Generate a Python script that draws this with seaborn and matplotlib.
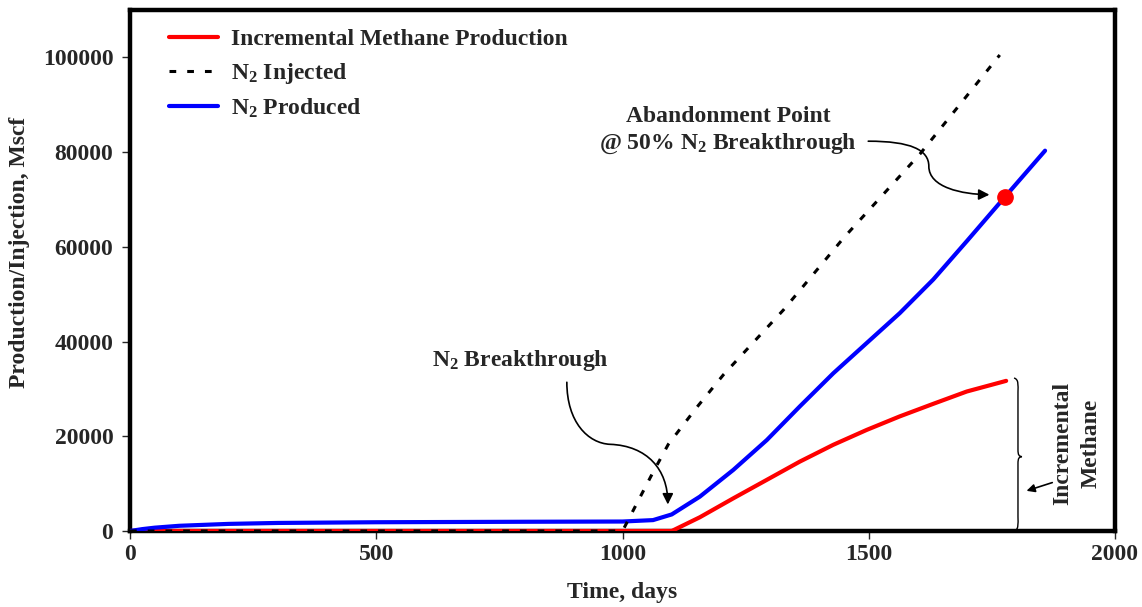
import numpy as np
import pandas as pd
import matplotlib
matplotlib.use("Agg")
import matplotlib.pyplot as plt
from matplotlib.path import Path
from matplotlib.patches import FancyArrowPatch, PathPatch
import seaborn as sns

# Cumulative volumes (Mscf) against time (days)
methane_days = [0, 200, 400, 600, 800, 1000, 1100, 1157, 1225, 1293, 1360, 1428, 1496, 1563, 1631, 1699, 1779]
methane_vals = [0, 0, 0, 0, 0, 0, 0, 2900, 6900, 10800, 14650, 18200, 21350, 24200, 26850, 29450, 31700]

injected_days = [0, 1000, 1030, 1060, 1093, 1150, 1205, 1327, 1450, 1604, 1766]
injected_vals = [0, 0, 6000, 12000, 18300, 26000, 33000, 46700, 62000, 79600, 100500]

produced_days = [0, 25, 50, 100, 200, 300, 500, 800, 1000, 1062, 1100, 1157, 1225, 1293, 1360, 1428,
                 1496, 1563, 1631, 1700, 1777, 1858]
produced_vals = [0, 400, 700, 1100, 1500, 1700, 1850, 1950, 2000, 2300, 3500, 7250, 12900, 19200, 26300,
                 33300, 39700, 46000, 53100, 61300, 70600, 80300]

abandon_day = 1777
abandon_val = 70600

x_ticks = [0, 500, 1000, 1500, 2000]
y_ticks = [0, 20000, 40000, 60000, 80000, 100000]

sns.set_style("white")
plt.rcParams["font.family"] = ["Liberation Serif", "DejaVu Serif"]
plt.rcParams["font.weight"] = "bold"
plt.rcParams["mathtext.fontset"] = "custom"
plt.rcParams["mathtext.rm"] = "Liberation Serif:bold"
plt.rcParams["mathtext.it"] = "Liberation Serif:bold"
plt.rcParams["mathtext.bf"] = "Liberation Serif:bold"

FS = 17

fig = plt.figure(figsize=(11.42, 6.07), dpi=100)
ax = fig.add_axes([130 / 1142, 1 - 531 / 607, 985 / 1142, 521 / 607])

df_m = pd.DataFrame({"t": methane_days, "v": methane_vals})
df_i = pd.DataFrame({"t": injected_days, "v": injected_vals})
df_p = pd.DataFrame({"t": produced_days, "v": produced_vals})

sns.lineplot(data=df_m, x="t", y="v", ax=ax, color="#ff0000", lw=3.0,
             label="Incremental Methane Production", zorder=3)
sns.lineplot(data=df_i, x="t", y="v", ax=ax, color="black", lw=2.2,
             label=r"N$_2$ Injected", zorder=5)
sns.lineplot(data=df_p, x="t", y="v", ax=ax, color="#0000ff", lw=3.0,
             label=r"N$_2$ Produced", zorder=4)
ax.lines[1].set_linestyle((0, (2.2, 3.6)))

ax.plot([abandon_day], [abandon_val], "o", color="#ff0000", ms=11, zorder=6)

ax.set_xlim(0, 2000)
ax.set_ylim(0, 110000)
ax.set_xticks(x_ticks)
ax.set_yticks(y_ticks)
ax.tick_params(axis="both", direction="out", length=6, width=1, labelsize=FS,
               bottom=True, left=True)
ax.tick_params(axis="x", pad=3)
ax.tick_params(axis="y", pad=6)
ax.set_xticklabels([str(v) for v in x_ticks], fontweight="bold")
ax.set_yticklabels([str(v) for v in y_ticks], fontweight="bold")

for s in ax.spines.values():
    s.set_visible(True)
    s.set_color("black")
    s.set_linewidth(3.2)

ax.set_xlabel("Time, days", fontsize=FS, fontweight="bold")
ax.set_ylabel("Production/Injection, Mscf", fontsize=FS, fontweight="bold")
ax.xaxis.set_label_coords(0.5, -0.098)
ax.yaxis.set_label_coords(-0.1015, 0.535)

leg = ax.legend(loc="upper left", frameon=False, fontsize=FS, handlelength=2.1,
                handletextpad=0.55, labelspacing=0.45, borderaxespad=0.4,
                bbox_to_anchor=(0.02, 1.0))
for t in leg.get_texts():
    t.set_fontweight("bold")

# Annotation: abandonment point
ax.text(1215, 84500, "Abandonment Point\n@ 50% N$_2$ Breakthrough", ha="center", va="center",
        fontsize=FS, fontweight="bold", linespacing=1.3)
p1 = Path([(1499, 82300), (1585, 82300), (1622, 80500), (1622, 77000),
           (1622, 72500), (1690, 71100), (1745, 71000)],
          [Path.MOVETO, Path.CURVE4, Path.CURVE4, Path.CURVE4,
           Path.CURVE4, Path.CURVE4, Path.CURVE4])
ax.add_patch(FancyArrowPatch(path=p1, arrowstyle="-|>", mutation_scale=16, lw=1.2,
                             color="black", zorder=7))

# Annotation: breakthrough
ax.text(792, 35900, "N$_2$ Breakthrough", ha="center", va="center",
        fontsize=FS, fontweight="bold")
p2 = Path([(887, 31400), (887, 23000), (930, 18500), (975, 18300),
           (1050, 18000), (1092, 13000), (1092, 5600)],
          [Path.MOVETO, Path.CURVE4, Path.CURVE4, Path.CURVE4,
           Path.CURVE4, Path.CURVE4, Path.CURVE4])
ax.add_patch(FancyArrowPatch(path=p2, arrowstyle="-|>", mutation_scale=16, lw=1.2,
                             color="black", zorder=7))

# Curly brace spanning the incremental methane volume
bx, top, bot, mid = 1803, 32300, 0, 15700
brace = Path([(bx - 8, top),
              (bx + 2, top - 300), (bx, top - 1500), (bx, top - 3000),
              (bx, mid + 1500),
              (bx, mid + 300), (bx + 2, mid + 100), (bx + 8, mid),
              (bx + 2, mid - 100), (bx, mid - 300), (bx, mid - 1500),
              (bx, bot + 3000),
              (bx, bot + 1500), (bx + 2, bot + 300), (bx - 8, bot)],
             [Path.MOVETO,
              Path.CURVE4, Path.CURVE4, Path.CURVE4,
              Path.LINETO,
              Path.CURVE4, Path.CURVE4, Path.CURVE4,
              Path.CURVE4, Path.CURVE4, Path.CURVE4,
              Path.LINETO,
              Path.CURVE4, Path.CURVE4, Path.CURVE4])
ax.add_patch(PathPatch(brace, fill=False, lw=1.0, edgecolor="black", zorder=7))

ax.text(1923, 18400, "Incremental\nMethane", rotation=90, ha="center", va="center",
        fontsize=FS, fontweight="bold", linespacing=1.45)
ax.annotate("", xy=(1815, 8300), xytext=(1878, 10400),
            arrowprops=dict(arrowstyle="-|>", lw=1.2, color="black", mutation_scale=12))

fig.savefig("out.png", dpi=100)
